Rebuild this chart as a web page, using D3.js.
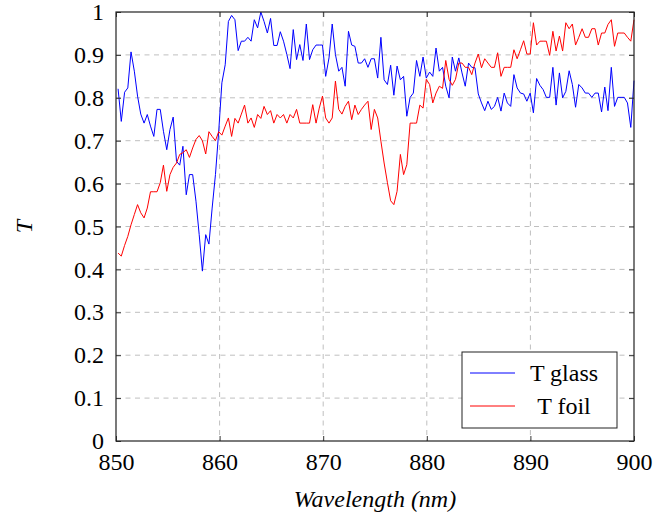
<!DOCTYPE html>
<html>
<head>
<meta charset="utf-8">
<script src="https://cdn.jsdelivr.net/npm/d3@7"></script>
<style>
  body { margin: 0; background: #fff; }
  svg text { font-family: "Times New Roman", "Liberation Serif", Tinos, "DejaVu Serif", "Noto Serif", serif !important; fill: #000; }
</style>
</head>
<body>
<div id="chart"></div>
<script>
// Step 1: Data
// =================================
var wavelengths = [
  850.20, 850.51, 850.83, 851.14, 851.45, 851.77, 852.08, 852.39, 852.71, 853.02,
  853.33, 853.65, 853.96, 854.27, 854.58, 854.90, 855.21, 855.52, 855.84, 856.15,
  856.46, 856.78, 857.09, 857.40, 857.72, 858.03, 858.34, 858.66, 858.97, 859.28,
  859.60, 859.91, 860.22, 860.54, 860.85, 861.16, 861.48, 861.79, 862.10, 862.41,
  862.73, 863.04, 863.35, 863.67, 863.98, 864.29, 864.61, 864.92, 865.23, 865.55,
  865.86, 866.17, 866.49, 866.80, 867.11, 867.43, 867.74, 868.05, 868.37, 868.68,
  868.99, 869.31, 869.62, 869.93, 870.24, 870.56, 870.87, 871.18, 871.50, 871.81,
  872.12, 872.44, 872.75, 873.06, 873.38, 873.69, 874.00, 874.32, 874.63, 874.94,
  875.26, 875.57, 875.88, 876.20, 876.51, 876.82, 877.13, 877.45, 877.76, 878.07,
  878.39, 878.70, 879.01, 879.33, 879.64, 879.95, 880.27, 880.58, 880.89, 881.21,
  881.52, 881.83, 882.15, 882.46, 882.77, 883.09, 883.40, 883.71, 884.03, 884.34,
  884.65, 884.97, 885.28, 885.59, 885.90, 886.22, 886.53, 886.84, 887.16, 887.47,
  887.78, 888.10, 888.41, 888.72, 889.04, 889.35, 889.66, 889.98, 890.29, 890.60,
  890.92, 891.23, 891.54, 891.86, 892.17, 892.48, 892.80, 893.11, 893.42, 893.74,
  894.05, 894.36, 894.67, 894.99, 895.30, 895.61, 895.93, 896.24, 896.55, 896.87,
  897.18, 897.49, 897.81, 898.12, 898.43, 898.75, 899.06, 899.37, 899.69, 900.00
];

var tGlass = [
  0.821, 0.745, 0.813, 0.823, 0.907, 0.862, 0.804, 0.762, 0.741, 0.761,
  0.734, 0.710, 0.773, 0.773, 0.722, 0.679, 0.726, 0.755, 0.652, 0.643,
  0.687, 0.574, 0.621, 0.621, 0.559, 0.481, 0.396, 0.481, 0.459, 0.543,
  0.621, 0.720, 0.835, 0.877, 0.978, 0.992, 0.982, 0.910, 0.932, 0.932,
  0.941, 0.932, 0.982, 0.963, 1.000, 0.978, 0.951, 0.985, 0.922, 0.922,
  0.954, 0.932, 0.901, 0.868, 0.959, 0.889, 0.924, 0.887, 0.972, 0.889,
  0.912, 0.923, 0.923, 0.923, 0.850, 0.893, 0.972, 0.901, 0.862, 0.871,
  0.827, 0.955, 0.923, 0.920, 0.881, 0.881, 0.891, 0.871, 0.891, 0.891,
  0.846, 0.941, 0.842, 0.831, 0.876, 0.806, 0.874, 0.842, 0.850, 0.757,
  0.801, 0.811, 0.887, 0.850, 0.895, 0.846, 0.860, 0.850, 0.916, 0.862,
  0.871, 0.827, 0.800, 0.895, 0.862, 0.893, 0.858, 0.827, 0.881, 0.871,
  0.870, 0.809, 0.788, 0.770, 0.792, 0.773, 0.780, 0.801, 0.769, 0.811,
  0.788, 0.780, 0.854, 0.823, 0.811, 0.809, 0.792, 0.811, 0.765, 0.845,
  0.829, 0.819, 0.801, 0.801, 0.871, 0.783, 0.858, 0.800, 0.815, 0.863,
  0.831, 0.778, 0.831, 0.823, 0.811, 0.811, 0.801, 0.811, 0.811, 0.767,
  0.825, 0.770, 0.871, 0.780, 0.801, 0.801, 0.801, 0.788, 0.731, 0.840
];

var tFoil = [
  0.438, 0.431, 0.456, 0.477, 0.504, 0.528, 0.551, 0.532, 0.520, 0.543,
  0.581, 0.581, 0.581, 0.602, 0.643, 0.582, 0.621, 0.638, 0.648, 0.668,
  0.672, 0.679, 0.661, 0.683, 0.703, 0.712, 0.700, 0.669, 0.721, 0.710,
  0.700, 0.721, 0.713, 0.734, 0.753, 0.710, 0.752, 0.741, 0.762, 0.783,
  0.741, 0.753, 0.731, 0.761, 0.752, 0.780, 0.761, 0.770, 0.741, 0.761,
  0.753, 0.761, 0.741, 0.761, 0.753, 0.773, 0.741, 0.741, 0.741, 0.741,
  0.784, 0.741, 0.776, 0.804, 0.753, 0.741, 0.753, 0.839, 0.773, 0.762,
  0.780, 0.792, 0.749, 0.783, 0.761, 0.773, 0.783, 0.792, 0.726, 0.773,
  0.753, 0.699, 0.648, 0.602, 0.560, 0.551, 0.582, 0.668, 0.621, 0.644,
  0.741, 0.741, 0.741, 0.783, 0.776, 0.843, 0.831, 0.788, 0.811, 0.827,
  0.822, 0.887, 0.843, 0.829, 0.843, 0.881, 0.881, 0.871, 0.871, 0.854,
  0.881, 0.902, 0.870, 0.891, 0.881, 0.871, 0.871, 0.905, 0.850, 0.871,
  0.871, 0.871, 0.912, 0.891, 0.912, 0.933, 0.902, 0.902, 0.975, 0.923,
  0.932, 0.932, 0.932, 0.899, 0.955, 0.909, 0.944, 0.909, 0.975, 0.961,
  0.972, 0.923, 0.941, 0.961, 0.941, 0.941, 0.961, 0.961, 0.923, 0.951,
  0.951, 0.971, 0.982, 0.920, 0.951, 0.951, 0.951, 0.941, 0.932, 0.982
];

var xTicks = [850, 860, 870, 880, 890, 900];
var yTicks = [0, 0.1, 0.2, 0.3, 0.4, 0.5, 0.6, 0.7, 0.8, 0.9, 1];
var seriesNames = ["T glass", "T foil"];
var seriesColors = ["#0000ff", "#ff0000"];

// Step 2: Set up our chart
// =================================
var svgWidth  = 655;
var svgHeight = 523;

var margin = {
  top:    12,
  right:  21,
  bottom: 82,
  left:   116
};

var width  = svgWidth  - margin.left - margin.right;
var height = svgHeight - margin.top  - margin.bottom;

var serif = '"Times New Roman", "Liberation Serif", Tinos, "DejaVu Serif", serif';

var svg = d3.select("#chart")
  .append("svg")
  .attr("width", svgWidth)
  .attr("height", svgHeight);

var svgGroup = svg.append("g")
  .attr("transform", `translate(${margin.left}, ${margin.top})`);

// Step 3: Scales
// =================================
var xScale = d3.scaleLinear().domain([850, 900]).range([0, width]);
var yScale = d3.scaleLinear().domain([0, 1]).range([height, 0]);

// Step 4: Grid (dashed, light gray)
// =================================
svgGroup.append("g")
  .selectAll("line")
  .data(xTicks.slice(1, -1))
  .enter().append("line")
  .attr("x1", d => xScale(d)).attr("x2", d => xScale(d))
  .attr("y1", 0).attr("y2", height)
  .attr("stroke", "#bfbfbf")
  .attr("stroke-dasharray", "5,4.5");

svgGroup.append("g")
  .selectAll("line")
  .data(yTicks.slice(1, -1))
  .enter().append("line")
  .attr("y1", d => yScale(d)).attr("y2", d => yScale(d))
  .attr("x1", 0).attr("x2", width)
  .attr("stroke", "#bfbfbf")
  .attr("stroke-dasharray", "5,4.5");

// Step 5: Lines
// =================================
var lineGen = d3.line()
  .x((d, i) => xScale(wavelengths[i]))
  .y(d => yScale(d));

[tGlass, tFoil].forEach(function(series, k) {
  svgGroup.append("path")
    .datum(series)
    .attr("d", lineGen)
    .attr("fill", "none")
    .attr("stroke", seriesColors[k])
    .attr("stroke-width", 1)
    .attr("stroke-linejoin", "round");
});

// Step 6: Axes with inward ticks on all four sides
// =================================
var tickLen = 5;
var bottomAxis = d3.axisBottom(xScale).tickValues(xTicks).tickSize(-tickLen).tickPadding(12);
var topAxis    = d3.axisTop(xScale).tickValues(xTicks).tickSize(-tickLen).tickFormat("");
var leftAxis   = d3.axisLeft(yScale).tickValues(yTicks).tickSize(-tickLen).tickPadding(12)
  .tickFormat(d3.format("~g"));
var rightAxis  = d3.axisRight(yScale).tickValues(yTicks).tickSize(-tickLen).tickFormat("");

function styleAxis(g) {
  g.attr("font-family", serif);
  g.select(".domain").remove();
  g.selectAll(".tick line").attr("stroke", "#333");
  g.selectAll("text")
    .attr("font-family", serif)
    .attr("font-size", 24)
    .attr("fill", "#000");
}

svgGroup.append("g").attr("transform", `translate(0, ${height})`).call(bottomAxis).call(styleAxis);
svgGroup.append("g").call(topAxis).call(styleAxis);
svgGroup.append("g").call(leftAxis).call(styleAxis);
svgGroup.append("g").attr("transform", `translate(${width}, 0)`).call(rightAxis).call(styleAxis);

// frame
svgGroup.append("rect")
  .attr("width", width)
  .attr("height", height)
  .attr("fill", "none")
  .attr("stroke", "#222")
  .attr("stroke-width", 1.2);

// Step 7: Axis labels
// =================================
svg.append("text")
  .attr("x", margin.left + width / 2)
  .attr("y", 507)
  .attr("text-anchor", "middle")
  .attr("font-family", serif)
  .attr("font-size", 24)
  .attr("font-style", "italic")
  .text("Wavelength (nm)");

svg.append("text")
  .attr("transform", `translate(32, ${margin.top + height / 2}) rotate(-90)`)
  .attr("text-anchor", "middle")
  .attr("font-family", serif)
  .attr("font-size", 24)
  .attr("font-style", "italic")
  .text("T");

// Step 8: Legend
// =================================
var legend = svg.append("g")
  .attr("transform", "translate(462, 352)");

legend.append("rect")
  .attr("width", 155)
  .attr("height", 76)
  .attr("fill", "#fff")
  .attr("stroke", "#222")
  .attr("stroke-width", 1);

var entries = legend.selectAll("g.entry")
  .data(seriesNames)
  .enter().append("g")
  .attr("class", "entry")
  .attr("transform", (d, i) => `translate(0, ${21 + 33 * i})`);

entries.append("line")
  .attr("x1", 8).attr("x2", 53)
  .attr("y1", 0).attr("y2", 0)
  .attr("stroke", (d, i) => seriesColors[i])
  .attr("stroke-width", 1);

entries.append("text")
  .attr("x", 102)
  .attr("y", 8)
  .attr("text-anchor", "middle")
  .attr("font-family", serif)
  .attr("font-size", 24)
  .text(d => d);
</script>
</body>
</html>
